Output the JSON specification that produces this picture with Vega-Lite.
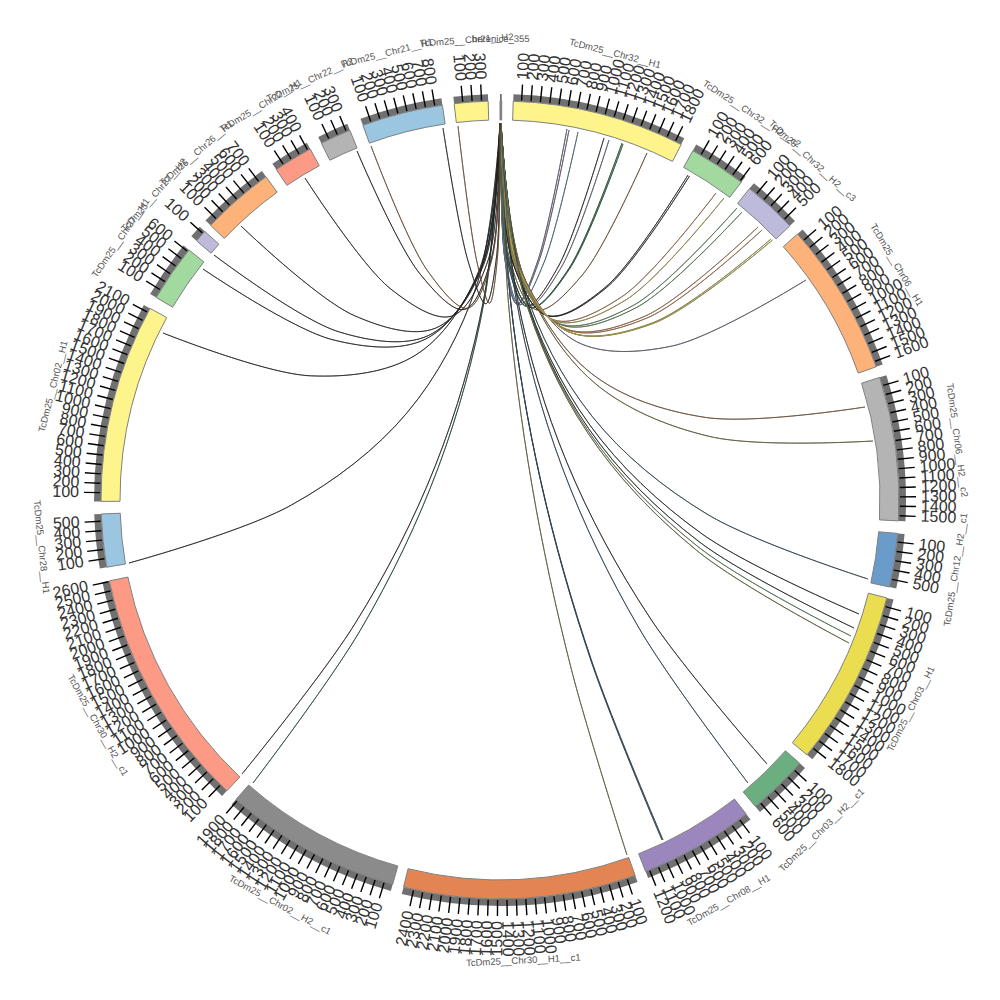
{"$schema":"https://vega.github.io/schema/vega-lite/v6.json","width":1000,"height":1000,"padding":0,"autosize":{"type":"fit","contains":"padding"},"background":"white","config":{"view":{"stroke":null}},
"datasets":{
"sectors":[
{"name":"TcDm25__Chr32__H1","start":1.9,"end":27,"mid":14.45},
{"name":"TcDm25__Chr32__H2__c2","start":28.9,"end":37.2,"mid":33.1},
{"name":"TcDm25__Chr32__H2__c3","start":38.7,"end":46.6,"mid":42.65},
{"name":"TcDm25__Chr06__H1","start":48.2,"end":70.5,"mid":59.35},
{"name":"TcDm25__Chr06__H2__c2","start":72.1,"end":93,"mid":82.55},
{"name":"TcDm25__Chr12__H2__c1","start":94.8,"end":102.6,"mid":98.7},
{"name":"TcDm25__Chr03__H1","start":104.2,"end":129.7,"mid":116.95},
{"name":"TcDm25__Chr03__H2__c1","start":131.3,"end":140.2,"mid":135.75},
{"name":"TcDm25__Chr08__H1","start":141.9,"end":158.6,"mid":150.25},
{"name":"TcDm25__Chr30__H1__c1","start":160.2,"end":194,"mid":177.1},
{"name":"TcDm25__Chr02__H2__c1","start":195.6,"end":221.4,"mid":208.5},
{"name":"TcDm25__Chr30__H2__c1","start":223.2,"end":258.3,"mid":240.75},
{"name":"TcDm25__Chr28__H1","start":260.3,"end":268,"mid":264.15},
{"name":"TcDm25__Chr02__H1","start":269.8,"end":298.7,"mid":284.25},
{"name":"TcDm25__Chr27__H1","start":300.5,"end":308.8,"mid":304.65},
{"name":"TcDm25__Chr27__H2","start":310.5,"end":312.3,"mid":311.4},
{"name":"TcDm25__Chr26__H1","start":313.5,"end":324.1,"mid":318.8},
{"name":"TcDm25__Chr22__H1","start":325.9,"end":331.6,"mid":328.75},
{"name":"TcDm25__Chr22__H2","start":333.4,"end":337.9,"mid":335.65},
{"name":"TcDm25__Chr21__H1","start":339.9,"end":351.7,"mid":345.8},
{"name":"TcDm25__Chr21__H2","start":353.4,"end":358.3,"mid":355.85},
{"name":"berenice_355","start":0,"end":0.25,"mid":0.1}
],
"ticks":[
{"t":3.1,"l":100},{"t":4.45,"l":200},{"t":5.8,"l":300},{"t":7.15,"l":400},{"t":8.5,"l":500},{"t":9.85,"l":600},{"t":11.2,"l":700},{"t":12.55,"l":800},{"t":13.9,"l":900},{"t":15.25,"l":1000},{"t":16.6,"l":1100},{"t":17.95,"l":1200},{"t":19.3,"l":1300},{"t":20.65,"l":1400},{"t":22,"l":1500},{"t":23.35,"l":1600},{"t":24.7,"l":1700},{"t":26.05,"l":1800},
{"t":30.2,"l":100},{"t":31.55,"l":200},{"t":32.9,"l":300},{"t":34.25,"l":400},{"t":35.6,"l":500},{"t":36.95,"l":600},
{"t":39.95,"l":100},{"t":41.3,"l":200},{"t":42.65,"l":300},{"t":44,"l":400},{"t":45.35,"l":500},
{"t":49.45,"l":100},{"t":50.8,"l":200},{"t":52.15,"l":300},{"t":53.5,"l":400},{"t":54.85,"l":500},{"t":56.2,"l":600},{"t":57.55,"l":700},{"t":58.9,"l":800},{"t":60.25,"l":900},{"t":61.6,"l":1000},{"t":62.95,"l":1100},{"t":64.3,"l":1200},{"t":65.65,"l":1300},{"t":67,"l":1400},{"t":68.35,"l":1500},{"t":69.7,"l":1600},
{"t":73.35,"l":100},{"t":74.7,"l":200},{"t":76.05,"l":300},{"t":77.4,"l":400},{"t":78.75,"l":500},{"t":80.1,"l":600},{"t":81.45,"l":700},{"t":82.8,"l":800},{"t":84.15,"l":900},{"t":85.5,"l":1000},{"t":86.85,"l":1100},{"t":88.2,"l":1200},{"t":89.55,"l":1300},{"t":90.9,"l":1400},{"t":92.25,"l":1500},
{"t":96.05,"l":100},{"t":97.4,"l":200},{"t":98.75,"l":300},{"t":100.1,"l":400},{"t":101.45,"l":500},
{"t":105.45,"l":100},{"t":106.8,"l":200},{"t":108.15,"l":300},{"t":109.5,"l":400},{"t":110.85,"l":500},{"t":112.2,"l":600},{"t":113.55,"l":700},{"t":114.9,"l":800},{"t":116.25,"l":900},{"t":117.6,"l":1000},{"t":118.95,"l":1100},{"t":120.3,"l":1200},{"t":121.65,"l":1300},{"t":123,"l":1400},{"t":124.35,"l":1500},{"t":125.7,"l":1600},{"t":127.05,"l":1700},{"t":128.4,"l":1800},
{"t":132.55,"l":100},{"t":133.9,"l":200},{"t":135.25,"l":300},{"t":136.6,"l":400},{"t":137.95,"l":500},{"t":139.3,"l":600},
{"t":143.15,"l":100},{"t":144.5,"l":200},{"t":145.85,"l":300},{"t":147.2,"l":400},{"t":148.55,"l":500},{"t":149.9,"l":600},{"t":151.25,"l":700},{"t":152.6,"l":800},{"t":153.95,"l":900},{"t":155.3,"l":1000},{"t":156.65,"l":1100},{"t":158,"l":1200},
{"t":161.45,"l":100},{"t":162.8,"l":200},{"t":164.15,"l":300},{"t":165.5,"l":400},{"t":166.85,"l":500},{"t":168.2,"l":600},{"t":169.55,"l":700},{"t":170.9,"l":800},{"t":172.25,"l":900},{"t":173.6,"l":1000},{"t":174.95,"l":1100},{"t":176.3,"l":1200},{"t":177.65,"l":1300},{"t":179,"l":1400},{"t":180.35,"l":1500},{"t":181.7,"l":1600},{"t":183.05,"l":1700},{"t":184.4,"l":1800},{"t":185.75,"l":1900},{"t":187.1,"l":2000},{"t":188.45,"l":2100},{"t":189.8,"l":2200},{"t":191.15,"l":2300},{"t":192.5,"l":2400},
{"t":196.85,"l":100},{"t":198.2,"l":200},{"t":199.55,"l":300},{"t":200.9,"l":400},{"t":202.25,"l":500},{"t":203.6,"l":600},{"t":204.95,"l":700},{"t":206.3,"l":800},{"t":207.65,"l":900},{"t":209,"l":1000},{"t":210.35,"l":1100},{"t":211.7,"l":1200},{"t":213.05,"l":1300},{"t":214.4,"l":1400},{"t":215.75,"l":1500},{"t":217.1,"l":1600},{"t":218.45,"l":1700},{"t":219.8,"l":1800},{"t":221.15,"l":1900},
{"t":224.45,"l":100},{"t":225.8,"l":200},{"t":227.15,"l":300},{"t":228.5,"l":400},{"t":229.85,"l":500},{"t":231.2,"l":600},{"t":232.55,"l":700},{"t":233.9,"l":800},{"t":235.25,"l":900},{"t":236.6,"l":1000},{"t":237.95,"l":1100},{"t":239.3,"l":1200},{"t":240.65,"l":1300},{"t":242,"l":1400},{"t":243.35,"l":1500},{"t":244.7,"l":1600},{"t":246.05,"l":1700},{"t":247.4,"l":1800},{"t":248.75,"l":1900},{"t":250.1,"l":2000},{"t":251.45,"l":2100},{"t":252.8,"l":2200},{"t":254.15,"l":2300},{"t":255.5,"l":2400},{"t":256.85,"l":2500},{"t":258.2,"l":2600},
{"t":261.55,"l":100},{"t":262.9,"l":200},{"t":264.25,"l":300},{"t":265.6,"l":400},{"t":266.95,"l":500},
{"t":271.05,"l":100},{"t":272.4,"l":200},{"t":273.75,"l":300},{"t":275.1,"l":400},{"t":276.45,"l":500},{"t":277.8,"l":600},{"t":279.15,"l":700},{"t":280.5,"l":800},{"t":281.85,"l":900},{"t":283.2,"l":1000},{"t":284.55,"l":1100},{"t":285.9,"l":1200},{"t":287.25,"l":1300},{"t":288.6,"l":1400},{"t":289.95,"l":1500},{"t":291.3,"l":1600},{"t":292.65,"l":1700},{"t":294,"l":1800},{"t":295.35,"l":1900},{"t":296.7,"l":2000},{"t":298.05,"l":2100},
{"t":301.75,"l":100},{"t":303.1,"l":200},{"t":304.45,"l":300},{"t":305.8,"l":400},{"t":307.15,"l":500},{"t":308.5,"l":600},
{"t":311.9,"l":100},
{"t":314.75,"l":100},{"t":316.1,"l":200},{"t":317.45,"l":300},{"t":318.8,"l":400},{"t":320.15,"l":500},{"t":321.5,"l":600},{"t":322.85,"l":700},
{"t":327.15,"l":100},{"t":328.5,"l":200},{"t":329.85,"l":300},{"t":331.2,"l":400},
{"t":334.65,"l":100},{"t":336,"l":200},{"t":337.35,"l":300},
{"t":341.15,"l":100},{"t":342.5,"l":200},{"t":343.85,"l":300},{"t":345.2,"l":400},{"t":346.55,"l":500},{"t":347.9,"l":600},{"t":349.25,"l":700},{"t":350.6,"l":800},
{"t":354.65,"l":100},{"t":356,"l":200},{"t":357.35,"l":300}
],
"links":[
{"k":1,"g":"purple","i":0,"x":67,"y":371},{"k":1,"g":"purple","i":1,"x":37.7,"y":239},{"k":1,"g":"purple","i":2,"x":17,"y":196},{"k":1,"g":"purple","i":3,"x":4.7,"y":242},{"k":1,"g":"purple","i":4,"x":1,"y":377},
{"k":2,"g":"purple","i":0,"x":69,"y":370},{"k":2,"g":"purple","i":1,"x":38.8,"y":238.4},{"k":2,"g":"purple","i":2,"x":17.5,"y":195.75},{"k":2,"g":"purple","i":3,"x":4.9,"y":241.9},{"k":2,"g":"purple","i":4,"x":1,"y":377},
{"k":3,"g":"teal","i":0,"x":78,"y":368},{"k":3,"g":"teal","i":1,"x":43.9,"y":237.3},{"k":3,"g":"teal","i":2,"x":19.75,"y":195.25},{"k":3,"g":"teal","i":3,"x":5.4,"y":241.8},{"k":3,"g":"teal","i":4,"x":1,"y":377},
{"k":4,"g":"dark","i":0,"x":104,"y":362},{"k":4,"g":"dark","i":1,"x":58.5,"y":233.9},{"k":4,"g":"dark","i":2,"x":26.25,"y":193.75},{"k":4,"g":"dark","i":3,"x":7.1,"y":241.4},{"k":4,"g":"dark","i":4,"x":1,"y":377},
{"k":5,"g":"purple","i":0,"x":109,"y":360},{"k":5,"g":"purple","i":1,"x":61.3,"y":232.8},{"k":5,"g":"purple","i":2,"x":27.5,"y":193.25},{"k":5,"g":"purple","i":3,"x":7.4,"y":241.3},{"k":5,"g":"purple","i":4,"x":1,"y":377},
{"k":6,"g":"forest","i":0,"x":122,"y":357},{"k":6,"g":"forest","i":1,"x":68.6,"y":231.1},{"k":6,"g":"forest","i":2,"x":30.75,"y":192.5},{"k":6,"g":"forest","i":3,"x":8.2,"y":241.1},{"k":6,"g":"forest","i":4,"x":1,"y":377},
{"k":7,"g":"forest","i":0,"x":123,"y":356},{"k":7,"g":"forest","i":1,"x":69.2,"y":230.6},{"k":7,"g":"forest","i":2,"x":31,"y":192.25},{"k":7,"g":"forest","i":3,"x":8.25,"y":241},{"k":7,"g":"forest","i":4,"x":1,"y":377},
{"k":8,"g":"brown","i":0,"x":147,"y":347},{"k":8,"g":"brown","i":1,"x":82.7,"y":225.5},{"k":8,"g":"brown","i":2,"x":37,"y":190},{"k":8,"g":"brown","i":3,"x":9.75,"y":240.5},{"k":8,"g":"brown","i":4,"x":1,"y":377},
{"k":9,"g":"dark","i":0,"x":188,"y":325},{"k":9,"g":"dark","i":1,"x":105.75,"y":213.1},{"k":9,"g":"dark","i":2,"x":47.25,"y":184.5},{"k":9,"g":"dark","i":3,"x":12.3,"y":239.1},{"k":9,"g":"dark","i":4,"x":1,"y":377},
{"k":10,"g":"dark","i":0,"x":189.5,"y":324},{"k":10,"g":"dark","i":1,"x":106.6,"y":212.5},{"k":10,"g":"dark","i":2,"x":47.6,"y":184.25},{"k":10,"g":"dark","i":3,"x":12.4,"y":239},{"k":10,"g":"dark","i":4,"x":1,"y":377},
{"k":11,"g":"orange","i":0,"x":216,"y":307},{"k":11,"g":"orange","i":1,"x":121.5,"y":203},{"k":11,"g":"orange","i":2,"x":54.25,"y":180},{"k":11,"g":"orange","i":3,"x":14.06,"y":238},{"k":11,"g":"orange","i":4,"x":1,"y":377},
{"k":12,"g":"yellow","i":0,"x":224,"y":302},{"k":12,"g":"yellow","i":1,"x":126,"y":200.2},{"k":12,"g":"yellow","i":2,"x":56.25,"y":178.75},{"k":12,"g":"yellow","i":3,"x":14.56,"y":237.7},{"k":12,"g":"yellow","i":4,"x":1,"y":377},
{"k":13,"g":"green","i":0,"x":237,"y":292},{"k":13,"g":"green","i":1,"x":133.3,"y":194.6},{"k":13,"g":"green","i":2,"x":59.5,"y":176.25},{"k":13,"g":"green","i":3,"x":15.4,"y":237},{"k":13,"g":"green","i":4,"x":1,"y":377},
{"k":14,"g":"green","i":0,"x":242,"y":288},{"k":14,"g":"green","i":1,"x":136.1,"y":192.3},{"k":14,"g":"green","i":2,"x":60.75,"y":175.25},{"k":14,"g":"green","i":3,"x":15.7,"y":236.8},{"k":14,"g":"green","i":4,"x":1,"y":377},
{"k":15,"g":"orange","i":0,"x":258,"y":273},{"k":15,"g":"orange","i":1,"x":145.1,"y":183.9},{"k":15,"g":"orange","i":2,"x":64.75,"y":171.5},{"k":15,"g":"orange","i":3,"x":16.7,"y":235.9},{"k":15,"g":"orange","i":4,"x":1,"y":377},
{"k":16,"g":"orange","i":0,"x":262,"y":270},{"k":16,"g":"orange","i":1,"x":147.4,"y":182.2},{"k":16,"g":"orange","i":2,"x":65.75,"y":170.75},{"k":16,"g":"orange","i":3,"x":16.9,"y":235.7},{"k":16,"g":"orange","i":4,"x":1,"y":377},
{"k":17,"g":"yellow","i":0,"x":271,"y":261},{"k":17,"g":"yellow","i":1,"x":152.4,"y":177.1},{"k":17,"g":"yellow","i":2,"x":68,"y":168.5},{"k":17,"g":"yellow","i":3,"x":17.5,"y":235.1},{"k":17,"g":"yellow","i":4,"x":1,"y":377},
{"k":18,"g":"yellow","i":0,"x":272.5,"y":260},{"k":18,"g":"yellow","i":1,"x":153.3,"y":176.6},{"k":18,"g":"yellow","i":2,"x":68.4,"y":168.25},{"k":18,"g":"yellow","i":3,"x":17.6,"y":235.1},{"k":18,"g":"yellow","i":4,"x":1,"y":377},
{"k":19,"g":"purple","i":0,"x":306,"y":220},{"k":19,"g":"purple","i":1,"x":172.1,"y":154},{"k":19,"g":"purple","i":2,"x":76.75,"y":158.25},{"k":19,"g":"purple","i":3,"x":19.7,"y":232.6},{"k":19,"g":"purple","i":4,"x":1,"y":377},
{"k":20,"g":"brown","i":0,"x":365,"y":93},{"k":20,"g":"brown","i":1,"x":205.3,"y":82.6},{"k":20,"g":"brown","i":2,"x":91.5,"y":126.5},{"k":20,"g":"brown","i":3,"x":23.4,"y":224.6},{"k":20,"g":"brown","i":4,"x":1,"y":377},
{"k":21,"g":"olive","i":0,"x":373,"y":59},{"k":21,"g":"olive","i":1,"x":209.8,"y":63.5},{"k":21,"g":"olive","i":2,"x":93.5,"y":118},{"k":21,"g":"olive","i":3,"x":23.9,"y":222.5},{"k":21,"g":"olive","i":4,"x":1,"y":377},
{"k":22,"g":"navy","i":0,"x":368,"y":-79},{"k":22,"g":"navy","i":1,"x":207,"y":-14.1},{"k":22,"g":"navy","i":2,"x":92.25,"y":83.5},{"k":22,"g":"navy","i":3,"x":23.6,"y":213.9},{"k":22,"g":"navy","i":4,"x":1,"y":377},
{"k":23,"g":"dark","i":0,"x":359,"y":-114},{"k":23,"g":"dark","i":1,"x":201.9,"y":-33.8},{"k":23,"g":"dark","i":2,"x":90,"y":74.75},{"k":23,"g":"dark","i":3,"x":23,"y":211.7},{"k":23,"g":"dark","i":4,"x":1,"y":377},
{"k":24,"g":"dark","i":0,"x":354,"y":-128},{"k":24,"g":"dark","i":1,"x":199.1,"y":-41.7},{"k":24,"g":"dark","i":2,"x":88.75,"y":71.25},{"k":24,"g":"dark","i":3,"x":22.7,"y":210.8},{"k":24,"g":"dark","i":4,"x":1,"y":377},
{"k":25,"g":"green","i":0,"x":351,"y":-136},{"k":25,"g":"green","i":1,"x":197.4,"y":-46.2},{"k":25,"g":"green","i":2,"x":88,"y":69.25},{"k":25,"g":"green","i":3,"x":22.5,"y":210.3},{"k":25,"g":"green","i":4,"x":1,"y":377},
{"k":26,"g":"olive","i":0,"x":349,"y":-143},{"k":26,"g":"olive","i":1,"x":196.3,"y":-50.1},{"k":26,"g":"olive","i":2,"x":87.5,"y":67.5},{"k":26,"g":"olive","i":3,"x":22.4,"y":209.9},{"k":26,"g":"olive","i":4,"x":1,"y":377},
{"k":27,"g":"dark","i":0,"x":267,"y":-264},{"k":27,"g":"dark","i":1,"x":150.2,"y":-118.2},{"k":27,"g":"dark","i":2,"x":67,"y":37.25},{"k":27,"g":"dark","i":3,"x":17.2,"y":202.3},{"k":27,"g":"dark","i":4,"x":1,"y":377},
{"k":28,"g":"navy","i":0,"x":248,"y":-283},{"k":28,"g":"navy","i":1,"x":139.5,"y":-128.9},{"k":28,"g":"navy","i":2,"x":62.25,"y":32.5},{"k":28,"g":"navy","i":3,"x":16.1,"y":201.1},{"k":28,"g":"navy","i":4,"x":1,"y":377},
{"k":29,"g":"navy","i":0,"x":162,"y":-340},{"k":29,"g":"navy","i":1,"x":91.1,"y":-161},{"k":29,"g":"navy","i":2,"x":40.75,"y":18.25},{"k":29,"g":"navy","i":3,"x":10.7,"y":197.6},{"k":29,"g":"navy","i":4,"x":1,"y":377},
{"k":30,"g":"navy","i":0,"x":163,"y":-340},{"k":30,"g":"navy","i":1,"x":91.7,"y":-161},{"k":30,"g":"navy","i":2,"x":41,"y":18.25},{"k":30,"g":"navy","i":3,"x":10.75,"y":197.6},{"k":30,"g":"navy","i":4,"x":1,"y":377},
{"k":31,"g":"olive","i":0,"x":127,"y":-355},{"k":31,"g":"olive","i":1,"x":71.4,"y":-169.4},{"k":31,"g":"olive","i":2,"x":32,"y":14.5},{"k":31,"g":"olive","i":3,"x":8.5,"y":196.6},{"k":31,"g":"olive","i":4,"x":1,"y":377},
{"k":32,"g":"forest","i":0,"x":-247,"y":-283},{"k":32,"g":"forest","i":1,"x":-138.9,"y":-128.9},{"k":32,"g":"forest","i":2,"x":-61.75,"y":32.5},{"k":32,"g":"forest","i":3,"x":-15.4,"y":201.1},{"k":32,"g":"forest","i":4,"x":0,"y":377},
{"k":33,"g":"dark","i":0,"x":-258,"y":-274},{"k":33,"g":"dark","i":1,"x":-145.1,"y":-123.8},{"k":33,"g":"dark","i":2,"x":-64.5,"y":34.75},{"k":33,"g":"dark","i":3,"x":-16.1,"y":201.7},{"k":33,"g":"dark","i":4,"x":0,"y":377},
{"k":34,"g":"dark","i":0,"x":-371,"y":-63},{"k":34,"g":"dark","i":1,"x":-208.7,"y":-5.1},{"k":34,"g":"dark","i":2,"x":-92.75,"y":87.5},{"k":34,"g":"dark","i":3,"x":-23.2,"y":214.9},{"k":34,"g":"dark","i":4,"x":0,"y":377},
{"k":35,"g":"dark","i":0,"x":-337,"y":167},{"k":35,"g":"dark","i":1,"x":-189.6,"y":124.2},{"k":35,"g":"dark","i":2,"x":-84.25,"y":145},{"k":35,"g":"dark","i":3,"x":-21.1,"y":229.2},{"k":35,"g":"dark","i":4,"x":0,"y":377},
{"k":36,"g":"dark","i":0,"x":-297,"y":231},{"k":36,"g":"dark","i":1,"x":-167.1,"y":160.2},{"k":36,"g":"dark","i":2,"x":-74.25,"y":161},{"k":36,"g":"dark","i":3,"x":-18.6,"y":233.2},{"k":36,"g":"dark","i":4,"x":0,"y":377},
{"k":37,"g":"dark","i":0,"x":-286,"y":245},{"k":37,"g":"dark","i":1,"x":-160.9,"y":168.1},{"k":37,"g":"dark","i":2,"x":-71.5,"y":164.5},{"k":37,"g":"dark","i":3,"x":-17.9,"y":234.1},{"k":37,"g":"dark","i":4,"x":0,"y":377},
{"k":38,"g":"dark","i":0,"x":-259,"y":274},{"k":38,"g":"dark","i":1,"x":-145.7,"y":184.4},{"k":38,"g":"dark","i":2,"x":-64.75,"y":171.75},{"k":38,"g":"dark","i":3,"x":-16.2,"y":235.9},{"k":38,"g":"dark","i":4,"x":0,"y":377},
{"k":39,"g":"dark","i":0,"x":-195,"y":322},{"k":39,"g":"dark","i":1,"x":-109.7,"y":211.4},{"k":39,"g":"dark","i":2,"x":-48.75,"y":183.75},{"k":39,"g":"dark","i":3,"x":-12.2,"y":238.9},{"k":39,"g":"dark","i":4,"x":0,"y":377},
{"k":40,"g":"dark","i":0,"x":-143,"y":349},{"k":40,"g":"dark","i":1,"x":-80.4,"y":226.6},{"k":40,"g":"dark","i":2,"x":-35.75,"y":190.5},{"k":40,"g":"dark","i":3,"x":-8.9,"y":240.6},{"k":40,"g":"dark","i":4,"x":0,"y":377},
{"k":41,"g":"brown","i":0,"x":-129,"y":354},{"k":41,"g":"brown","i":1,"x":-72.6,"y":229.4},{"k":41,"g":"brown","i":2,"x":-32.25,"y":191.75},{"k":41,"g":"brown","i":3,"x":-8.1,"y":240.9},{"k":41,"g":"brown","i":4,"x":0,"y":377},
{"k":42,"g":"dark","i":0,"x":-57,"y":372},{"k":42,"g":"dark","i":1,"x":-32.1,"y":239.5},{"k":42,"g":"dark","i":2,"x":-14.25,"y":196.25},{"k":42,"g":"dark","i":3,"x":-3.6,"y":242.1},{"k":42,"g":"dark","i":4,"x":0,"y":377},
{"k":43,"g":"brown","i":0,"x":-42,"y":374},{"k":43,"g":"brown","i":1,"x":-23.6,"y":240.7},{"k":43,"g":"brown","i":2,"x":-10.5,"y":196.75},{"k":43,"g":"brown","i":3,"x":-2.6,"y":242.2},{"k":43,"g":"brown","i":4,"x":0,"y":377}
]},
"resolve":{"scale":{"angle":"independent"}},
"layer":[
{"data":{"name":"links"},"mark":{"type":"line","interpolate":"catmull-rom","stroke":"#111111","strokeWidth":0.8},
"encoding":{"x":{"field":"x","type":"quantitative","scale":{"domain":[-500,500]},"axis":null},"y":{"field":"y","type":"quantitative","scale":{"domain":[-500,500]},"axis":null},"detail":{"field":"k"},"order":{"field":"i"}}},
{"data":{"name":"links"},"mark":{"type":"line","interpolate":"catmull-rom","strokeWidth":0.5},
"encoding":{"x":{"field":"x","type":"quantitative","scale":{"domain":[-500,500]},"axis":null},"y":{"field":"y","type":"quantitative","scale":{"domain":[-500,500]},"axis":null},"detail":{"field":"k"},"order":{"field":"i"},
"stroke":{"field":"g","type":"nominal","legend":null,"scale":{"domain":["purple","teal","dark","forest","brown","orange","yellow","green","olive","navy"],"range":["#7f7a9e","#5f93ad","#222222","#1f6a3c","#a8683c","#e08a50","#d8c840","#6ba86a","#8a8440","#2f5270"]}}}},
{"data":{"name":"sectors"},"mark":{"type":"arc","radius":406,"radius2":399,"fill":"#707070"},
"encoding":{"theta":{"field":"start","type":"quantitative","scale":{"domain":[0,360]}},"theta2":{"field":"end"}}},
{"data":{"name":"sectors"},"mark":{"type":"arc","radius":399,"radius2":380,"stroke":"#808080","strokeWidth":1},
"encoding":{"theta":{"field":"start","type":"quantitative","scale":{"domain":[0,360]}},"theta2":{"field":"end"},
"fill":{"field":"name","type":"nominal","legend":null,"sort":null,"scale":{"domain":["TcDm25__Chr32__H1","TcDm25__Chr32__H2__c2","TcDm25__Chr32__H2__c3","TcDm25__Chr06__H1","TcDm25__Chr06__H2__c2","TcDm25__Chr12__H2__c1","TcDm25__Chr03__H1","TcDm25__Chr03__H2__c1","TcDm25__Chr08__H1","TcDm25__Chr30__H1__c1","TcDm25__Chr02__H2__c1","TcDm25__Chr30__H2__c1","TcDm25__Chr28__H1","TcDm25__Chr02__H1","TcDm25__Chr27__H1","TcDm25__Chr27__H2","TcDm25__Chr26__H1","TcDm25__Chr22__H1","TcDm25__Chr22__H2","TcDm25__Chr21__H1","TcDm25__Chr21__H2","berenice_355"],"range":["#FDF48B","#A1D99F","#BDBADB","#FDB27A","#B4B4B4","#6A9CCB","#EBDD50","#6BAF80","#9B87BE","#E38552","#8B8B8B","#FC9A85","#9AC6E2","#FDF48B","#A1D99F","#BDBADB","#FDB27A","#FC9A85","#B4B4B4","#9AC6E2","#FDF48B","#808080"]}}}},
{"data":{"name":"ticks"},"mark":{"type":"arc","radius":416,"radius2":400,"stroke":"#000000","strokeWidth":1.4},
"encoding":{"theta":{"field":"t","type":"quantitative","scale":{"domain":[0,360]}},"theta2":{"field":"t"}}},
{"data":{"name":"ticks"},"transform":[{"filter":"datum.t<180"}],"mark":{"type":"text","radius":421,"align":"left","baseline":"middle","font":"Liberation Sans","fontSize":16,"fill":"#333333"},
"encoding":{"theta":{"field":"t","type":"quantitative","scale":{"domain":[0,360]}},"text":{"field":"l","type":"nominal"},"angle":{"field":"t","type":"quantitative","scale":{"domain":[0,360],"range":[-90,270]}}}},
{"data":{"name":"ticks"},"transform":[{"filter":"datum.t>=180"}],"mark":{"type":"text","radius":421,"align":"right","baseline":"middle","font":"Liberation Sans","fontSize":16,"fill":"#333333"},
"encoding":{"theta":{"field":"t","type":"quantitative","scale":{"domain":[0,360]}},"text":{"field":"l","type":"nominal"},"angle":{"field":"t","type":"quantitative","scale":{"domain":[0,360],"range":[90,450]}}}},
{"data":{"name":"sectors"},"transform":[{"filter":"datum.mid<90||datum.mid>270"}],"mark":{"type":"text","radius":461,"align":"center","baseline":"middle","font":"Liberation Sans","fontSize":9.5,"fill":"#555555"},
"encoding":{"theta":{"field":"mid","type":"quantitative","scale":{"domain":[0,360]}},"text":{"field":"name","type":"nominal"},"angle":{"field":"mid","type":"quantitative","scale":{"domain":[0,360],"range":[0,360]}}}},
{"data":{"name":"sectors"},"transform":[{"filter":"datum.mid>=90&&datum.mid<=270"}],"mark":{"type":"text","radius":461,"align":"center","baseline":"middle","font":"Liberation Sans","fontSize":9.5,"fill":"#555555"},
"encoding":{"theta":{"field":"mid","type":"quantitative","scale":{"domain":[0,360]}},"text":{"field":"name","type":"nominal"},"angle":{"field":"mid","type":"quantitative","scale":{"domain":[0,360],"range":[-180,180]}}}}
]}
